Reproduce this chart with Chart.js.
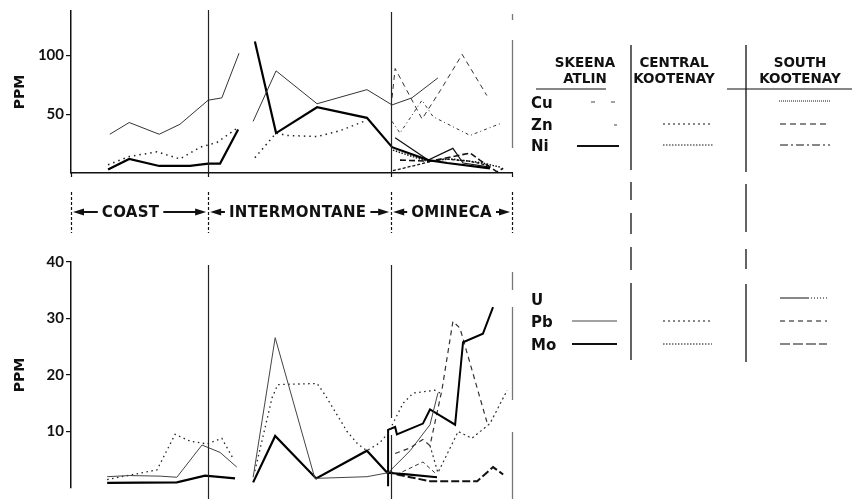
<!DOCTYPE html>
<html>
<head>
<meta charset="utf-8">
<script src="https://cdn.jsdelivr.net/npm/chart.js@4"></script>
<style>
  body { margin: 0; background: #fff; width: 854px; height: 499px; overflow: hidden; position: relative; }
  #top { position: absolute; left: 0; top: 0; }
  #bottom { position: absolute; left: 0; top: 250px; }
  #key { position: absolute; left: 0; top: 0; pointer-events: none; }
</style>
</head>
<body>
<canvas id="top" width="520" height="250"></canvas>
<canvas id="bottom" width="520" height="249"></canvas>
<svg id="key" width="854" height="499" font-family="DejaVu Sans" font-weight="bold" fill="#111">
  <g font-size="13.5" text-anchor="middle">
    <text x="585" y="67">SKEENA</text><text x="585" y="83">ATLIN</text>
    <text x="674" y="67">CENTRAL</text><text x="674" y="83">KOOTENAY</text>
    <text x="800" y="67">SOUTH</text><text x="800" y="83">KOOTENAY</text>
  </g>
  <g font-size="15">
    <text x="531" y="108">Cu</text><text x="531" y="130">Zn</text><text x="531" y="151">Ni</text>
    <text x="531" y="305">U</text><text x="531" y="327">Pb</text><text x="531" y="350">Mo</text>
  </g>
  <g stroke="#111" fill="none">
    <line x1="536" y1="89" x2="606" y2="89" stroke-width="1.2"/>
    <line x1="727" y1="89" x2="852" y2="89" stroke-width="1.2"/>
    <path d="M631 45V170M631 182V200M631 213V234M631 247V270M631 283V360" stroke-width="1.3"/>
    <path d="M746 45V172M746 184V232M746 249V269M746 284V362" stroke-width="1.3"/>
    <line x1="591" y1="102" x2="617" y2="102" stroke-width="1" stroke-dasharray="4 16" stroke="#444"/>
    <line x1="614" y1="125" x2="617" y2="125" stroke-width="1" stroke="#444"/>
    <line x1="577" y1="146" x2="619" y2="146" stroke-width="2"/>
    <line x1="663" y1="124" x2="713" y2="124" stroke-width="1" stroke-dasharray="2 3"/>
    <line x1="663" y1="145" x2="713" y2="145" stroke-width="1" stroke-dasharray="1.5 1.5"/>
    <line x1="779" y1="101" x2="830" y2="101" stroke-width="1" stroke-dasharray="1 1"/>
    <line x1="780" y1="124" x2="830" y2="124" stroke-width="1" stroke-dasharray="6 4"/>
    <line x1="780" y1="145" x2="830" y2="145" stroke-width="1.2" stroke-dasharray="8 3 2 3"/>
    <line x1="572" y1="321" x2="617" y2="321" stroke-width="1" stroke="#444"/>
    <line x1="572" y1="344" x2="617" y2="344" stroke-width="2"/>
    <line x1="663" y1="321" x2="712" y2="321" stroke-width="1" stroke-dasharray="2 3"/>
    <line x1="663" y1="344" x2="712" y2="344" stroke-width="1" stroke-dasharray="1.5 1.5"/>
    <line x1="780" y1="298" x2="808" y2="298" stroke-width="1"/>
    <line x1="808" y1="298" x2="827" y2="298" stroke-width="1" stroke-dasharray="1 2"/>
    <line x1="780" y1="321" x2="827" y2="321" stroke-width="1" stroke-dasharray="5 4"/>
    <line x1="780" y1="344" x2="827" y2="344" stroke-width="1.2" stroke-dasharray="10 3"/>
  </g>
</svg>
<script>
// position along the transect (0 = west end, 100 = east end)
const boundaries = [0, 31.1, 72.6, 100];
const regions = ["COAST", "INTERMONTANE", "OMINECA"];

// upper panel: Cu, Zn, Ni (ppm), [position, value]; null breaks the line
const skeenaCu = [[8.8,33],[13.2,43],[20,33],[24.7,41.5],[31.1,62],[34.2,64],[38.1,102],[39.7,null],
  [41.3,44],[46.5,87],[55.8,59],[67.1,71],[72.8,58],[77.3,64],[83.2,81]];
const skeenaZn = [[8.4,7],[13.2,14],[19.5,18],[24.7,12],[29.3,22],[33.1,26],[37.6,38],[39.7,null],
  [41.7,13],[46.5,34],[49,32],[55.8,31],[61,36],[67.1,45]];
const skeenaNi = [[8.4,3],[13.2,12],[20,6],[27,6],[31.1,8],[33.8,8],[37.9,37],[39.7,null],
  [41.7,112],[46.5,34],[55.8,56],[67.1,47],[72.8,22],[81,11],[85.3,8.5],[95,4]];
const southZn = [[72.8,64],[73.5,89],[76.2,70],[79.6,46],[83.7,70],[88.7,101],[94.3,66]];
const centralZn = [[72.8,44],[74.6,34],[79.6,62],[82.1,48],[90.5,32],[97.3,42]];
const centralCu = [[73.5,30],[81,11],[86.6,21],[88.9,8.5],[95,5]];
const centralNi = [[73,19.5],[80.7,10],[86,12],[92.7,9],[97.3,5]];
const southNi = [[74.6,11],[81.4,10],[90.5,17],[92.7,11],[96.6,1],[98,4]];
const southCu = [[73,2],[75.3,4],[80.7,9],[84.8,12],[90.5,10],[95,6]];

// lower panel: U, Pb, Mo (ppm)
const skeenaPb = [[8.2,2],[13.2,2.2],[20.2,2.1],[24,1.9],[29.7,7.6],[33.8,6.3],[37.6,3.7],[39.5,null],
  [41.3,1.9],[46.3,26.6],[55.3,1.7],[67.1,2],[71.9,2.7],[76.9,6.6],[81.4,11.2],[83.2,16.8]];
const skeenaMo = [[8.2,0.9],[24,1],[30.4,2.2],[37.2,1.7],[39.5,null],
  [41.3,1],[46.3,9.2],[55.6,1.7],[67.1,6.6],[71.7,2.7],[76.2,2.4],[83,1.9]];
const centralPb = [[8.2,1.5],[19.5,3.2],[23.6,9.5],[27,8.3],[30.8,7.8],[34.2,8.8],[36.7,5.3],[39.5,null],
  [41.7,3],[45.6,16],[46.9,18.3],[55.8,18.5],[57.6,16.5],[62.6,10],[65,7.8],[67.1,6.6],[70,8],[71.9,9.7],
  [75.3,15],[77.6,16.8],[82.5,17.3],[83.7,16.8]];
const southU = [[71.9,0.3],[71.9,10.3],[73.5,10.8],[73.9,9.5],[79.8,11.4],[81.4,13.9],[87.1,11.2],[88.9,25.8],[93.4,27.3],[95.7,32]];
const southPb = [[73.5,6.1],[76.9,7.1],[79.8,8.6],[81.4,7.5],[84.1,17.3],[86.6,29.5],[88.2,28.3],[94.3,11.7]];
const centralMo = [[81.4,7.5],[83.2,2.7],[87.8,10],[90.9,8.8],[95,11.4],[98.9,17.3]];
const southMo = [[73.9,2.4],[81.4,1.2],[87.5,1.2],[92.1,1.2],[95.7,3.7],[98,2.4]];
const southMo2 = [[72.3,3],[73.9,2.4],[79.8,4.6],[82.5,2.7]];

function line(pts, color, width, dash) {
  return {
    data: pts.map(p => ({ x: p[0], y: p[1] })),
    borderColor: color, borderWidth: width, borderDash: dash || [],
    pointRadius: 0, fill: false, tension: 0
  };
}

const regionLines = {
  id: "regionLines",
  afterDatasetsDraw(chart, args, opts) {
    const { ctx, scales: { x } } = chart;
    ctx.save();
    opts.lines.forEach(l => {
      const px = Math.round(x.getPixelForValue(l.at)) + 0.5;
      ctx.strokeStyle = l.color;
      ctx.lineWidth = l.width;
      l.spans.forEach(s => {
        ctx.beginPath();
        ctx.moveTo(px, s[0]);
        ctx.lineTo(px, s[1]);
        ctx.stroke();
      });
    });
    ctx.restore();
  }
};

// belt names with arrows under the upper panel
const beltBand = {
  id: "beltBand",
  afterDraw(chart) {
    const { ctx, scales: { x } } = chart;
    const y = 212;
    ctx.save();
    ctx.strokeStyle = "#111";
    ctx.fillStyle = "#111";
    boundaries.forEach(b => {
      const px = Math.round(x.getPixelForValue(b)) + 0.5;
      ctx.lineWidth = 1.2;
      ctx.setLineDash([]);
      ctx.beginPath(); ctx.moveTo(px, 173); ctx.lineTo(px, 177); ctx.stroke();
      ctx.setLineDash([3, 2]);
      ctx.beginPath(); ctx.moveTo(px, 192); ctx.lineTo(px, 233); ctx.stroke();
    });
    ctx.setLineDash([]);
    ctx.font = "bold 15px 'DejaVu Sans'";
    ctx.letterSpacing = "0.3px";
    ctx.textBaseline = "middle";
    ctx.textAlign = "center";
    const shift = [-9, -2, 0];
    regions.forEach((name, i) => {
      const a = x.getPixelForValue(boundaries[i]);
      const b = x.getPixelForValue(boundaries[i + 1]);
      const c = (a + b) / 2 + shift[i];
      const w = ctx.measureText(name).width;
      ctx.fillText(name, c, y + 1);
      const l0 = a + 2, l1 = c - w / 2 - 4, r0 = c + w / 2 + 4, r1 = b - 2;
      ctx.lineWidth = 2;
      ctx.beginPath(); ctx.moveTo(l0 + 9, y); ctx.lineTo(l1, y); ctx.stroke();
      ctx.beginPath(); ctx.moveTo(r0, y); ctx.lineTo(r1 - 9, y); ctx.stroke();
      ctx.beginPath(); ctx.moveTo(l0, y); ctx.lineTo(l0 + 11, y - 3.5); ctx.lineTo(l0 + 11, y + 3.5); ctx.fill();
      ctx.beginPath(); ctx.moveTo(r1, y); ctx.lineTo(r1 - 11, y - 3.5); ctx.lineTo(r1 - 11, y + 3.5); ctx.fill();
    });
    ctx.restore();
  }
};

function yAxis(max, ticks) {
  return {
    min: 0, max: max,
    afterBuildTicks: s => { s.ticks = ticks.map(v => ({ value: v })); },
    afterFit: s => { s.width = 71; },
    ticks: { color: "#111", padding: 2, font: { family: "Lato", weight: "bold", size: 15 } },
    grid: { drawOnChartArea: false, tickLength: 5, color: "#111", lineWidth: 1.2 },
    border: { color: "#111", width: 1.5 },
    title: { display: true, text: "PPM", color: "#111", padding: { top: 12 },
      font: { family: "DejaVu Sans", weight: "bold", size: 14 } }
  };
}

Chart.defaults.animation = false;
Chart.defaults.plugins.legend.display = false;
Chart.defaults.plugins.tooltip.enabled = false;

new Chart(document.getElementById("top"), {
  type: "line",
  data: {
    datasets: [
      line(skeenaCu, "#333", 1),
      line(skeenaZn, "#222", 1.5, [1.5, 4]),
      line(skeenaNi, "#000", 2.2),
      line(southZn, "#333", 1, [5, 4]),
      line(centralZn, "#333", 1, [3, 3, 1, 3]),
      line(centralCu, "#111", 1.2),
      line(centralNi, "#111", 1.5, [1.5, 1.5]),
      line(southNi, "#111", 1.6, [6, 3]),
      line(southCu, "#111", 1.3, [3, 2])
    ]
  },
  options: {
    responsive: false,
    layout: { padding: { top: 10, right: 8, bottom: 77, left: 0 } },
    scales: {
      x: { type: "linear", min: 0, max: 100, afterFit: s => { s.height = 0; },
        ticks: { display: false }, grid: { display: false },
        border: { color: "#111", width: 1.5 } },
      y: yAxis(138, [50, 100])
    },
    plugins: {
      regionLines: { lines: [
        { at: boundaries[1], color: "#222", width: 1.2, spans: [[10, 173]] },
        { at: boundaries[2], color: "#222", width: 1.2, spans: [[12, 173]] },
        { at: boundaries[3], color: "#777", width: 1.3, spans: [[14, 20], [40, 148]] }
      ] }
    }
  },
  plugins: [regionLines, beltBand]
});

new Chart(document.getElementById("bottom"), {
  type: "line",
  data: {
    datasets: [
      line(skeenaPb, "#444", 1),
      line(skeenaMo, "#000", 2.2),
      line(centralPb, "#222", 1.3, [1.5, 3.5]),
      line(southU, "#000", 2),
      line(southPb, "#333", 1.2, [5, 4]),
      line(centralMo, "#333", 1.2, [2, 3]),
      line(southMo, "#111", 2, [8, 3]),
      line(southMo2, "#333", 1, [4, 3])
    ]
  },
  options: {
    responsive: false,
    layout: { padding: { top: 12, right: 8, bottom: 0, left: 0 } },
    scales: {
      x: { type: "linear", min: 0, max: 100, display: false },
      y: yAxis(40, [10, 20, 30, 40])
    },
    plugins: {
      regionLines: { lines: [
        { at: boundaries[1], color: "#222", width: 1.2, spans: [[15, 249]] },
        { at: boundaries[2], color: "#222", width: 1.2, spans: [[15, 168], [185, 249]] },
        { at: boundaries[3], color: "#777", width: 1.3, spans: [[22, 40], [57, 150], [182, 249]] }
      ] }
    }
  },
  plugins: [regionLines]
});
</script>
</body>
</html>
